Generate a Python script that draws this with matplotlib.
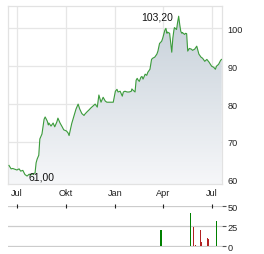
import numpy as np
import pandas as pd
import matplotlib
matplotlib.use("Agg")
import matplotlib.pyplot as plt
import matplotlib.dates as mdates
from matplotlib.colors import LinearSegmentedColormap

plt.rcParams["font.family"] = ["Liberation Sans", "DejaVu Sans"]

# price series
price_dates = [
    "2023-06-16", "2023-06-20", "2023-06-23", "2023-06-27", "2023-07-01", "2023-07-05",
    "2023-07-08", "2023-07-12", "2023-07-16", "2023-07-20", "2023-07-24", "2023-07-27",
    "2023-07-31", "2023-08-04", "2023-08-06", "2023-08-08", "2023-08-11", "2023-08-13",
    "2023-08-17", "2023-08-21", "2023-08-23", "2023-08-27", "2023-08-29", "2023-08-30",
    "2023-09-03", "2023-09-07", "2023-09-10", "2023-09-14", "2023-09-16", "2023-09-20",
    "2023-09-24", "2023-09-27", "2023-10-02", "2023-10-05", "2023-10-07", "2023-10-09",
    "2023-10-12", "2023-10-16", "2023-10-20", "2023-10-24", "2023-10-27", "2023-10-31",
    "2023-11-04", "2023-11-06", "2023-11-10", "2023-11-13", "2023-11-17", "2023-11-21",
    "2023-11-25", "2023-11-29", "2023-12-02", "2023-12-06", "2023-12-10", "2023-12-14",
    "2023-12-17", "2023-12-23", "2023-12-29", "2024-01-02", "2024-01-05", "2024-01-07",
    "2024-01-11", "2024-01-15", "2024-01-17", "2024-01-20", "2024-01-24", "2024-01-28",
    "2024-02-01", "2024-02-02", "2024-02-04", "2024-02-08", "2024-02-10", "2024-02-12",
    "2024-02-14", "2024-02-16", "2024-02-19", "2024-02-21", "2024-02-23", "2024-02-27",
    "2024-03-01", "2024-03-03", "2024-03-07", "2024-03-10", "2024-03-12", "2024-03-16",
    "2024-03-20", "2024-03-22", "2024-03-25", "2024-03-29", "2024-03-31", "2024-04-04",
    "2024-04-06", "2024-04-08", "2024-04-09", "2024-04-13", "2024-04-17", "2024-04-19",
    "2024-04-21", "2024-04-22", "2024-04-26", "2024-04-28", "2024-04-30", "2024-05-02",
    "2024-05-04", "2024-05-06", "2024-05-07", "2024-05-11", "2024-05-13", "2024-05-15",
    "2024-05-17", "2024-05-20", "2024-05-24", "2024-05-26", "2024-05-30", "2024-06-03",
    "2024-06-07", "2024-06-11", "2024-06-14", "2024-06-18", "2024-06-22", "2024-06-26",
    "2024-07-01", "2024-07-05", "2024-07-08", "2024-07-10", "2024-07-14", "2024-07-18",
    "2024-07-20",
]
price_values = [
    63.8, 62.9, 63.0, 62.8, 62.6, 62.9,
    62.3, 62.5, 61.4, 61.0, 61.5, 61.3,
    61.6, 61.8, 64.5, 65.5, 66.5, 70.8,
    72.1, 76.0, 76.6, 75.5, 74.5, 75.0,
    74.2, 75.0, 74.0, 75.3, 76.3, 75.0,
    74.0, 73.2, 72.9, 72.4, 71.7, 73.0,
    74.9, 76.8, 78.7, 80.0, 78.7, 77.5,
    77.0, 77.4, 78.0, 78.4, 79.0, 79.5,
    80.0, 79.2, 82.4, 80.5, 81.8, 80.8,
    80.5, 80.5, 80.5, 83.4, 83.9, 83.2,
    83.4, 82.1, 83.2, 83.4, 83.2, 83.2,
    83.4, 84.0, 83.7, 83.2, 86.3, 86.8,
    86.3, 86.0, 87.1, 87.3, 86.6, 87.9,
    87.6, 88.4, 89.2, 91.8, 92.1, 92.4,
    93.2, 94.0, 96.0, 96.6, 97.4, 99.5,
    100.0, 98.7, 99.0, 98.7, 93.7, 97.4,
    99.5, 100.2, 99.7, 101.6, 103.2, 101.0,
    99.2, 98.7, 98.9, 98.4, 98.7, 98.6,
    94.0, 94.7, 94.5, 94.2, 94.5, 95.3,
    93.2, 92.4, 92.1, 91.3, 91.8, 91.1,
    90.0, 89.7, 89.2, 90.0, 90.5, 91.6,
    91.8,
]

# volume bars (thousands)
vol_dates = ["2024-03-27", "2024-03-29", "2024-05-23", "2024-05-27", "2024-06-01",
             "2024-06-10", "2024-06-12", "2024-06-24", "2024-06-26", "2024-07-11"]
vol_values = [20, 20, 41, 24, 1.5, 20, 5, 10, 9, 32]
vol_dir = ["up", "up", "up", "down", "down", "down", "down", "down", "down", "up"]

month_ticks = ["2023-07-01", "2023-10-01", "2024-01-01", "2024-04-01", "2024-07-01"]
month_labels = ["Jul", "Okt", "Jan", "Apr", "Jul"]
price_ticks = [60, 70, 80, 90, 100]
vol_ticks = [0, 25, 50]

dates = pd.to_datetime(price_dates)
vals = np.array(price_values)
xnum = mdates.date2num(dates)
x0 = mdates.date2num(pd.Timestamp("2023-06-14"))
x1 = mdates.date2num(pd.Timestamp("2024-07-20"))
y0, y1 = 58.9, 105.9

fig = plt.figure(figsize=(2.64, 2.55), dpi=100)
ax = fig.add_axes([0.030, 0.2745, 0.810, 0.698])
ax2 = fig.add_axes([0.030, 0.028, 0.810, 0.162])

txt = "#222222"
grid_c = "#e6e6e6"
lab_fs = 6.6

# gradient fill under line
poly = ax.fill_between(xnum, vals, y0, color="none", lw=0)
cmap = LinearSegmentedColormap.from_list("g", ["#f6f7f9", "#c6d0d9"])
grad = np.linspace(0, 1, 256).reshape(-1, 1)
img = ax.imshow(grad, extent=[x0, x1, y0, 104], origin="lower", aspect="auto",
                cmap=cmap, zorder=1)
img.set_clip_path(poly.get_paths()[0], transform=ax.transData)
ax.plot(xnum, vals, color="#3b9b3b", lw=0.8, zorder=3)

ax.set_xlim(x0, x1)
ax.set_ylim(y0, y1)
mt = mdates.date2num(pd.to_datetime(month_ticks))
ax.set_xticks(mt)
ax.set_xticklabels(month_labels)
ax.set_yticks(price_ticks)
ax.yaxis.tick_right()
ax.tick_params(axis="both", length=0, labelsize=lab_fs, colors=txt)
ax.tick_params(axis="x", pad=3)
ax.tick_params(axis="y", pad=4)
ax.grid(True, color=grid_c, lw=0.9, zorder=0)
ax.set_axisbelow(True)
for s in ax.spines.values():
    s.set_color("#e2e2e2")
    s.set_linewidth(0.9)

imax = int(np.argmax(vals))
imin = int(np.argmin(vals))
ax.annotate(f"{vals[imax]:.2f}".replace(".", ","), xy=(xnum[imax], vals[imax]),
            xytext=(-4, 0), textcoords="offset points", ha="right", va="center",
            fontsize=7.5, color="#111111", zorder=4)
ax.annotate(f"{vals[imin]:.2f}".replace(".", ","), xy=(xnum[imin], vals[imin]),
            xytext=(1, 0), textcoords="offset points", ha="left", va="center",
            fontsize=7.5, color="#111111", zorder=4)

# volume panel
vx = mdates.date2num(pd.to_datetime(vol_dates))
vcol = ["#008000" if d == "up" else "#b22222" for d in vol_dir]
ax2.bar(vx, vol_values, width=1.9, color=vcol, zorder=3, antialiased=False)
ax2.set_xlim(x0, x1)
ax2.set_ylim(-0.6, 50.6)
for v in vol_ticks:
    ax2.axhline(v, color="#cccccc", lw=0.9, zorder=1)
ax2.set_yticks(vol_ticks)
ax2.yaxis.tick_right()
ax2.tick_params(axis="y", length=3, width=0.8, color="#555555", pad=1,
                labelsize=lab_fs, labelcolor=txt)
ax2.set_xticks(mt)
ax2.xaxis.set_ticks_position("top")
ax2.tick_params(axis="x", length=2.5, width=0.8, direction="inout", color="#222222",
                labeltop=False, labelbottom=False)
for s in ax2.spines.values():
    s.set_visible(False)
ax2.patch.set_alpha(0)

fig.savefig("out.png", dpi=100)
